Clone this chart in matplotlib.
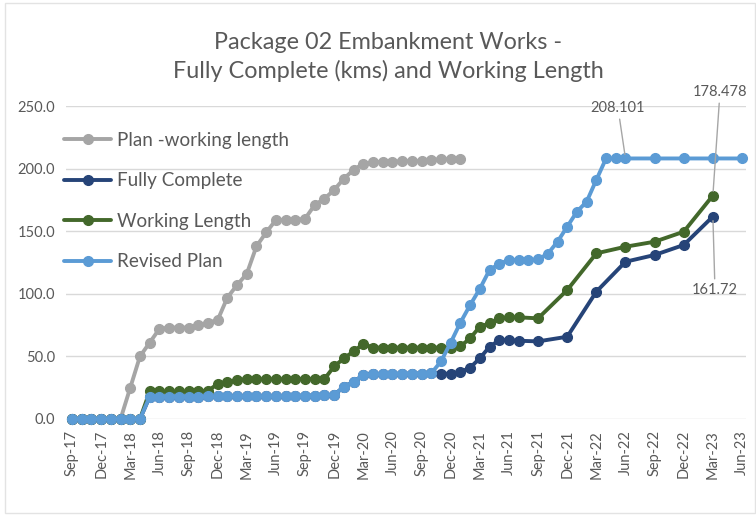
import matplotlib
matplotlib.use("Agg")
import matplotlib.pyplot as plt
from matplotlib.patches import Rectangle
import pandas as pd

plt.rcParams['font.family'] = ['Lato', 'DejaVu Sans']

# ---- data ----
months = pd.period_range('2017-09', '2023-06', freq='M').strftime('%b-%y').tolist()
tick_labels = months[::3]

plan_x = months[:41]
plan_y = [0, 0, 0, 0, 0, 0, 25, 50, 61, 72, 73, 73, 73, 75, 77, 79, 97, 107, 116, 138,
          149, 159, 159, 159, 160, 171, 176, 183, 192, 199, 204, 205, 205.5, 205.5, 206, 206,
          206, 207, 207.5, 207.5, 207.8]

fc_x = months[:47] + ['Sep-21', 'Dec-21', 'Mar-22', 'Jun-22', 'Sep-22', 'Dec-22', 'Mar-23']
fc_y = [0, 0, 0, 0, 0, 0, 0, 0,
        17.8, 17.8, 17.8, 17.9, 17.9, 17.9, 18.0, 18.0, 18.0, 18.1, 18.1, 18.2, 18.2, 18.3,
        18.4, 18.5, 18.6, 18.7, 18.9, 19.2,
        25.8, 29.8, 35.0, 35.8, 36.0, 36.0, 36.2, 36.2, 36.3, 36.5,
        36.0, 36.2, 37.5, 41.0, 48.5, 57.7, 63.0, 63.0, 62.5,
        62.0, 65.7, 101.7, 125.6, 131.0, 139.0, 161.72]

wl_x = months[:47] + ['Sep-21', 'Dec-21', 'Mar-22', 'Jun-22', 'Sep-22', 'Dec-22', 'Mar-23']
wl_y = [0, 0, 0, 0, 0, 0, 0, 0,
        22, 22, 22, 22, 22, 22, 22.5,
        28, 29.8, 31, 32,
        31.8, 31.8, 31.8, 31.8, 32, 32, 32, 32,
        42, 48.5, 54, 60,
        57, 57, 57, 57, 57, 57, 57, 57, 57,
        58, 64.5, 73.7, 76.4, 80.4, 81.2, 81.2,
        80.4, 103, 132.3, 137.6, 141.6, 149.6, 178.478]

rev_x = months[:58] + ['Sep-22', 'Dec-22', 'Mar-23', 'Jun-23']
rev_y = [0, 0, 0, 0, 0, 0, 0, 0,
         17.8, 17.8, 17.8, 17.9, 17.9, 17.9, 18.0, 18.0, 18.0, 18.1, 18.1, 18.2, 18.2, 18.3,
         18.4, 18.5, 18.6, 18.7, 18.9, 19.2,
         25.8, 29.8, 35.0, 35.8, 36.0, 36.0, 36.2, 36.2, 36.3, 36.5,
         46, 61, 77, 91, 104, 119, 124, 127, 127, 127, 127.5, 132, 141.6, 153.6, 165.6,
         173.6, 191, 208.101, 208.101, 208.101,
         208.101, 208.101, 208.101, 208.101]

series = [
    ("Plan -working length", plan_x, plan_y, "#A5A5A5"),
    ("Fully Complete", fc_x, fc_y, "#264478"),
    ("Working Length", wl_x, wl_y, "#43682B"),
    ("Revised Plan", rev_x, rev_y, "#5B9BD5"),
]

title = "Package 02 Embankment Works -\nFully Complete (kms) and Working Length"
text_col = "#595959"

# ---- figure ----
W, H = 756, 516
fig = plt.figure(figsize=(W / 100, H / 100), dpi=100)
fig.patches.append(Rectangle((5 / W, 0.006), 1 - 5 / W - 0.001, 1 - 3 / H - 0.006,
                             transform=fig.transFigure, fill=False,
                             edgecolor="#E3E3E3", lw=1.0))

ax_l, ax_r, ax_b, ax_t = 66, 746, 419, 106
ax = fig.add_axes([ax_l / W, (H - ax_b) / H, (ax_r - ax_l) / W, (ax_b - ax_t) / H])

idx = {m: i for i, m in enumerate(months)}
for z, (name, xs, ys, col) in enumerate(series):
    ax.plot([idx[m] for m in xs], ys, color=col, lw=2.8, marker='o', ms=7,
            label=name, zorder=3 + z, clip_on=False, solid_capstyle='round')

px = (742 - 72) / 69.0
ax.set_xlim(-(72 - ax_l) / px, (ax_r - 72) / px)
ax.set_ylim(0, 250)
ax.set_yticks([0, 50, 100, 150, 200, 250])
ax.set_yticklabels([f"{v:.1f}" for v in [0, 50, 100, 150, 200, 250]])
ax.set_xticks([idx[m] for m in tick_labels])
ax.set_xticklabels(tick_labels, rotation=90)
ax.tick_params(axis='both', length=0, colors=text_col, labelsize=10.5)
ax.tick_params(axis='x', pad=8)
ax.tick_params(axis='y', pad=8)
ax.grid(axis='y', color="#D9D9D9", lw=1)
ax.set_axisbelow(True)
for s in ax.spines.values():
    s.set_visible(False)

fig.text(388 / W, 1 - 57 / H, title, ha='center', va='center', fontsize=16.8,
         color=text_col, linespacing=1.36)

leg = ax.legend(loc='upper left', bbox_to_anchor=(64 / W, 1 - 132 / H),
                bbox_transform=fig.transFigure, frameon=False, fontsize=13.6,
                labelcolor=text_col, handlelength=2.5, handletextpad=0.3,
                labelspacing=1.24, borderpad=0, borderaxespad=0)

# annotations
def to_data(xp, yp):
    return (xp - 72) / px, (ax_b - yp) / ((ax_b - ax_t) / 250.0)

ann = [
    ("208.101", idx['Jun-22'], rev_y[rev_x.index('Jun-22')], (618, 108)),
    ("178.478", idx['Mar-23'], wl_y[-1], (720, 92)),
    ("161.72", idx['Mar-23'], fc_y[-1], (715, 290)),
]
for txt, xv, yv, (tx, ty) in ann:
    ax.annotate(txt, xy=(xv, yv), xytext=to_data(tx, ty), ha='center', va='center',
                fontsize=10.5, color=text_col, annotation_clip=False,
                arrowprops=dict(arrowstyle='-', color="#A6A6A6", lw=1, shrinkA=1, shrinkB=3),
                zorder=10)

fig.savefig("out.png", dpi=100)
